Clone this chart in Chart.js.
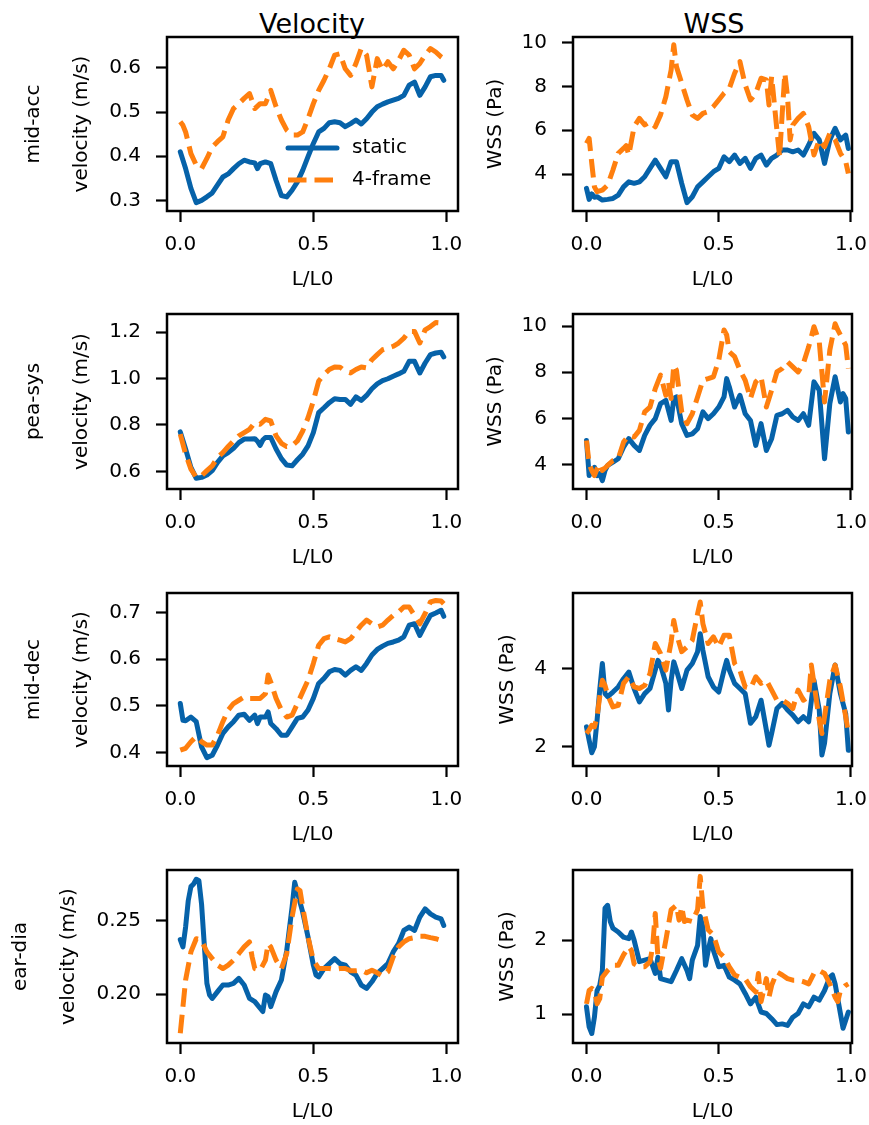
<!DOCTYPE html>
<html>
<head>
<meta charset="utf-8">
<script src="https://cdn.jsdelivr.net/npm/chart.js@4.4.0/dist/chart.umd.min.js"></script>
<style>
  html, body { margin: 0; padding: 0; background: #fff; }
  body { width: 869px; height: 1125px; position: relative; overflow: hidden; font-family: "DejaVu Sans", sans-serif; }
  canvas { position: absolute; }
  .coltitle { position: absolute; font-size: 27px; line-height: 27px; color: #000; white-space: nowrap; transform: translateX(-50%); }
</style>
</head>
<body>
<script>
// ---------------- text ----------------
const columnTitles = ['Velocity', 'WSS'];
const rowLabels = ['mid-acc', 'pea-sys', 'mid-dec', 'ear-dia'];
const yAxisTitles = ['velocity (m/s)', 'WSS (Pa)'];
const xAxisTitle = 'L/L0';
const seriesNames = ['static', '4-frame'];

// ---------------- ticks / ranges ----------------
const xTicks = [0, 0.5, 1.0];
const xTickLabels = ['0.0', '0.5', '1.0'];
const xRanges = [[-0.0499, 1.0435], [-0.051, 1.0038]];
const velTicks = [[0.3, 0.4, 0.5, 0.6], [0.6, 0.8, 1.0, 1.2], [0.4, 0.5, 0.6, 0.7], [0.20, 0.25]];
const velTickLabels = [['0.3', '0.4', '0.5', '0.6'], ['0.6', '0.8', '1.0', '1.2'], ['0.4', '0.5', '0.6', '0.7'], ['0.20', '0.25']];
const wssTicks = [[4, 6, 8, 10], [4, 6, 8, 10], [2, 4], [1, 2]];
const wssTickLabels = [['4', '6', '8', '10'], ['4', '6', '8', '10'], ['2', '4'], ['1', '2']];
const velRanges = [[0.276, 0.670], [0.524, 1.278], [0.371, 0.742], [0.1667, 0.2843]];
const wssRanges = [[2.32, 10.25], [2.94, 10.52], [1.51, 5.93], [0.612, 2.946]];

// ---------------- data: [L/L0, value] ----------------
const velMidAccStatic = [[0,0.41],[0.02,0.372],[0.04,0.327],[0.06,0.295],[0.08,0.30],[0.10,0.308],[0.12,0.317],[0.14,0.335],[0.16,0.353],[0.18,0.36],[0.20,0.372],[0.22,0.383],[0.24,0.391],[0.26,0.387],[0.28,0.385],[0.29,0.372],[0.30,0.383],[0.32,0.387],[0.34,0.383],[0.36,0.345],[0.38,0.311],[0.40,0.308],[0.42,0.323],[0.44,0.342],[0.46,0.368],[0.48,0.399],[0.50,0.429],[0.52,0.455],[0.54,0.463],[0.56,0.476],[0.58,0.478],[0.60,0.476],[0.62,0.467],[0.64,0.474],[0.66,0.482],[0.68,0.473],[0.70,0.485],[0.72,0.50],[0.74,0.512],[0.76,0.518],[0.78,0.523],[0.80,0.527],[0.82,0.531],[0.84,0.538],[0.86,0.561],[0.88,0.568],[0.90,0.538],[0.92,0.557],[0.94,0.58],[0.96,0.583],[0.98,0.583],[0.99,0.572]];
const velMidAcc4f = [[0,0.478],[0.01,0.47],[0.02,0.455],[0.04,0.406],[0.06,0.38],[0.08,0.372],[0.10,0.395],[0.12,0.421],[0.14,0.433],[0.16,0.444],[0.18,0.482],[0.20,0.508],[0.22,0.519],[0.24,0.531],[0.26,0.542],[0.28,0.508],[0.30,0.519],[0.32,0.519],[0.34,0.549],[0.36,0.512],[0.38,0.482],[0.40,0.459],[0.42,0.448],[0.44,0.448],[0.46,0.455],[0.48,0.485],[0.50,0.519],[0.52,0.549],[0.54,0.572],[0.56,0.598],[0.58,0.629],[0.60,0.632],[0.62,0.598],[0.64,0.583],[0.66,0.61],[0.68,0.644],[0.70,0.629],[0.72,0.557],[0.74,0.621],[0.76,0.595],[0.78,0.614],[0.80,0.598],[0.82,0.617],[0.84,0.64],[0.86,0.629],[0.88,0.598],[0.90,0.61],[0.92,0.629],[0.94,0.644],[0.96,0.636],[0.98,0.625],[0.99,0.621]];

const wssMidAccStatic = [[0,3.35],[0.01,2.85],[0.02,3.1],[0.03,2.95],[0.04,2.97],[0.06,2.82],[0.08,2.85],[0.10,2.89],[0.12,3.04],[0.14,3.42],[0.16,3.65],[0.18,3.58],[0.20,3.65],[0.22,3.88],[0.24,4.26],[0.26,4.64],[0.28,4.26],[0.30,3.88],[0.32,4.57],[0.34,4.57],[0.36,3.58],[0.38,2.7],[0.40,2.97],[0.42,3.42],[0.44,3.65],[0.46,3.88],[0.48,4.11],[0.50,4.26],[0.52,4.79],[0.54,4.57],[0.56,4.87],[0.58,4.49],[0.60,4.72],[0.62,4.26],[0.64,4.72],[0.66,4.87],[0.68,4.41],[0.70,4.72],[0.72,4.87],[0.74,5.1],[0.76,5.1],[0.78,5.02],[0.80,5.1],[0.82,4.87],[0.84,5.33],[0.86,5.86],[0.88,5.56],[0.90,4.49],[0.92,5.56],[0.94,6.09],[0.96,5.56],[0.98,5.78],[0.99,5.17]];
const wssMidAcc4f = [[0,5.4],[0.01,5.63],[0.02,4.49],[0.03,3.42],[0.04,3.2],[0.06,3.27],[0.08,3.5],[0.10,4.19],[0.12,4.95],[0.14,5.17],[0.15,5.3],[0.16,4.87],[0.18,6.16],[0.20,6.54],[0.22,6.24],[0.24,6.39],[0.26,6.16],[0.28,6.7],[0.30,7.53],[0.32,8.75],[0.33,9.9],[0.34,8.9],[0.36,8.14],[0.38,7.38],[0.40,6.7],[0.42,6.54],[0.44,6.77],[0.46,6.85],[0.48,7.08],[0.50,7.38],[0.52,7.69],[0.54,7.91],[0.56,8.6],[0.58,9.13],[0.60,8.07],[0.62,7.38],[0.64,7.69],[0.66,8.37],[0.68,8.3],[0.69,7.15],[0.70,8.45],[0.72,6.0],[0.73,4.79],[0.74,6.77],[0.75,8.6],[0.76,7.53],[0.77,5.56],[0.78,6.24],[0.80,6.54],[0.82,6.77],[0.84,6.16],[0.86,4.87],[0.88,5.56],[0.90,5.25],[0.92,5.86],[0.94,5.56],[0.96,4.95],[0.98,4.57],[0.99,4.03]];

const velPeaSysStatic = [[0,0.77],[0.02,0.696],[0.04,0.617],[0.06,0.57],[0.08,0.574],[0.10,0.584],[0.12,0.603],[0.14,0.639],[0.16,0.667],[0.18,0.681],[0.20,0.699],[0.22,0.724],[0.24,0.739],[0.26,0.739],[0.28,0.741],[0.29,0.73],[0.30,0.712],[0.31,0.735],[0.32,0.746],[0.34,0.746],[0.36,0.696],[0.38,0.655],[0.40,0.627],[0.42,0.624],[0.44,0.65],[0.46,0.674],[0.48,0.71],[0.50,0.767],[0.52,0.853],[0.54,0.874],[0.56,0.896],[0.58,0.913],[0.60,0.91],[0.62,0.91],[0.64,0.889],[0.66,0.921],[0.68,0.906],[0.70,0.927],[0.72,0.956],[0.74,0.977],[0.76,0.991],[0.78,0.999],[0.80,1.01],[0.82,1.02],[0.84,1.031],[0.86,1.074],[0.88,1.074],[0.90,1.024],[0.92,1.067],[0.94,1.103],[0.96,1.11],[0.98,1.113],[0.99,1.093]];
const velPeaSys4f = [[0,0.76],[0.02,0.674],[0.04,0.61],[0.06,0.574],[0.08,0.581],[0.10,0.603],[0.12,0.624],[0.14,0.66],[0.16,0.681],[0.18,0.707],[0.20,0.731],[0.22,0.753],[0.24,0.767],[0.26,0.781],[0.28,0.81],[0.30,0.803],[0.32,0.824],[0.34,0.817],[0.36,0.753],[0.38,0.721],[0.40,0.707],[0.42,0.71],[0.44,0.731],[0.46,0.774],[0.48,0.831],[0.50,0.903],[0.52,0.989],[0.54,1.017],[0.56,1.039],[0.58,1.05],[0.60,1.049],[0.62,1.031],[0.64,1.024],[0.66,1.039],[0.68,1.05],[0.70,1.046],[0.72,1.081],[0.74,1.103],[0.76,1.124],[0.78,1.131],[0.80,1.139],[0.82,1.153],[0.84,1.174],[0.86,1.203],[0.88,1.203],[0.90,1.153],[0.92,1.21],[0.94,1.224],[0.96,1.241],[0.98,1.239],[0.99,1.227]];

const wssPeaSysStatic = [[0,5.04],[0.01,3.52],[0.02,3.74],[0.03,3.88],[0.04,3.52],[0.05,3.6],[0.06,3.3],[0.07,3.74],[0.08,3.96],[0.10,4.1],[0.12,4.25],[0.14,4.75],[0.16,5.12],[0.18,4.83],[0.20,4.61],[0.22,5.26],[0.24,5.7],[0.26,5.99],[0.28,6.64],[0.30,6.78],[0.32,5.91],[0.33,6.86],[0.34,6.93],[0.36,5.77],[0.38,5.26],[0.40,5.33],[0.42,5.55],[0.44,6.28],[0.46,5.99],[0.48,6.2],[0.50,6.49],[0.52,6.93],[0.53,7.72],[0.54,7.36],[0.56,6.49],[0.58,7.0],[0.60,6.2],[0.62,5.91],[0.64,4.83],[0.66,5.77],[0.68,4.61],[0.70,5.12],[0.72,6.13],[0.74,6.2],[0.76,6.35],[0.78,6.06],[0.80,5.91],[0.82,6.2],[0.84,5.7],[0.86,7.58],[0.88,7.22],[0.90,4.25],[0.92,6.64],[0.94,7.8],[0.96,6.71],[0.97,7.07],[0.98,6.86],[0.99,5.41]];
const wssPeaSys4f = [[0,5.04],[0.01,4.03],[0.02,3.74],[0.03,3.52],[0.04,3.81],[0.05,4.03],[0.06,3.74],[0.08,3.96],[0.10,4.17],[0.12,4.25],[0.14,4.97],[0.16,5.26],[0.18,5.19],[0.20,5.48],[0.22,6.28],[0.24,6.49],[0.26,7.29],[0.28,7.87],[0.30,7.0],[0.31,7.58],[0.32,6.86],[0.33,8.3],[0.34,8.09],[0.36,6.28],[0.38,5.77],[0.40,6.2],[0.42,6.93],[0.44,7.65],[0.46,7.72],[0.48,7.8],[0.50,8.52],[0.52,9.83],[0.53,9.61],[0.54,8.88],[0.56,8.67],[0.58,8.09],[0.60,7.65],[0.62,6.86],[0.64,7.58],[0.66,7.8],[0.68,6.49],[0.70,7.22],[0.72,8.01],[0.74,8.16],[0.76,8.45],[0.78,8.23],[0.80,8.01],[0.82,8.38],[0.84,9.1],[0.86,9.97],[0.88,9.32],[0.90,6.71],[0.92,8.96],[0.94,10.1],[0.95,9.83],[0.96,9.61],[0.98,9.17],[0.99,8.16]];

const velMidDecStatic = [[0,0.505],[0.01,0.469],[0.02,0.468],[0.04,0.476],[0.06,0.466],[0.08,0.412],[0.10,0.389],[0.12,0.394],[0.14,0.416],[0.16,0.441],[0.18,0.455],[0.20,0.466],[0.22,0.48],[0.24,0.482],[0.26,0.469],[0.28,0.48],[0.29,0.462],[0.30,0.476],[0.32,0.476],[0.33,0.487],[0.34,0.462],[0.36,0.451],[0.38,0.437],[0.40,0.437],[0.42,0.455],[0.44,0.473],[0.46,0.476],[0.48,0.491],[0.50,0.516],[0.52,0.548],[0.54,0.559],[0.56,0.573],[0.58,0.578],[0.60,0.576],[0.62,0.566],[0.64,0.576],[0.66,0.584],[0.68,0.576],[0.70,0.591],[0.72,0.609],[0.74,0.621],[0.76,0.628],[0.78,0.634],[0.80,0.637],[0.82,0.641],[0.84,0.648],[0.86,0.673],[0.88,0.676],[0.90,0.651],[0.92,0.673],[0.94,0.694],[0.96,0.699],[0.98,0.705],[0.99,0.692]];
const velMidDec4f = [[0,0.405],[0.02,0.409],[0.04,0.423],[0.06,0.434],[0.08,0.423],[0.10,0.416],[0.12,0.416],[0.14,0.437],[0.16,0.466],[0.18,0.491],[0.20,0.505],[0.22,0.512],[0.24,0.519],[0.26,0.516],[0.28,0.516],[0.30,0.516],[0.32,0.526],[0.33,0.566],[0.34,0.551],[0.36,0.516],[0.38,0.491],[0.40,0.476],[0.42,0.48],[0.44,0.505],[0.46,0.53],[0.48,0.555],[0.50,0.591],[0.52,0.63],[0.54,0.644],[0.56,0.648],[0.58,0.644],[0.60,0.641],[0.62,0.637],[0.64,0.644],[0.66,0.659],[0.68,0.673],[0.70,0.684],[0.72,0.676],[0.74,0.669],[0.76,0.673],[0.78,0.684],[0.80,0.694],[0.82,0.701],[0.84,0.712],[0.86,0.712],[0.88,0.694],[0.90,0.676],[0.92,0.698],[0.94,0.723],[0.96,0.726],[0.98,0.725],[0.99,0.719]];

const wssMidDecStatic = [[0,2.51],[0.01,2.17],[0.02,1.85],[0.03,2.0],[0.04,2.68],[0.05,3.45],[0.06,4.13],[0.07,3.36],[0.08,3.28],[0.10,3.4],[0.12,3.53],[0.14,3.74],[0.16,3.91],[0.18,3.49],[0.20,3.15],[0.22,3.36],[0.24,3.49],[0.26,3.96],[0.27,4.21],[0.28,4.09],[0.30,3.62],[0.31,2.94],[0.32,3.7],[0.33,4.17],[0.34,3.96],[0.36,3.49],[0.38,3.96],[0.40,4.13],[0.42,4.43],[0.43,4.89],[0.44,4.47],[0.46,3.79],[0.48,3.53],[0.50,3.4],[0.52,3.96],[0.53,4.21],[0.54,3.96],[0.56,3.62],[0.58,3.49],[0.60,3.36],[0.62,2.6],[0.64,2.77],[0.66,3.19],[0.68,2.43],[0.69,2.04],[0.70,2.34],[0.72,2.98],[0.74,3.11],[0.76,2.94],[0.78,2.81],[0.80,2.64],[0.82,2.77],[0.84,2.64],[0.86,3.7],[0.88,2.94],[0.89,1.79],[0.90,2.09],[0.92,3.36],[0.94,4.09],[0.96,3.36],[0.98,2.85],[0.99,1.91]];
const wssMidDec4f = [[0,2.34],[0.01,2.43],[0.02,2.55],[0.03,2.51],[0.04,2.77],[0.05,3.28],[0.06,3.7],[0.07,3.57],[0.08,3.32],[0.10,3.02],[0.12,3.06],[0.14,3.62],[0.16,3.79],[0.18,3.53],[0.20,3.49],[0.22,3.57],[0.24,3.87],[0.26,4.64],[0.28,4.38],[0.30,3.96],[0.32,4.68],[0.33,5.23],[0.34,4.89],[0.36,4.43],[0.38,4.55],[0.40,4.72],[0.42,5.4],[0.43,5.7],[0.44,5.15],[0.46,4.64],[0.48,4.81],[0.50,4.55],[0.52,4.85],[0.54,4.85],[0.56,4.13],[0.58,3.96],[0.60,3.53],[0.62,3.49],[0.64,3.79],[0.66,3.62],[0.68,3.7],[0.70,3.45],[0.72,3.19],[0.74,3.19],[0.76,3.11],[0.78,2.98],[0.80,3.45],[0.82,3.19],[0.84,3.28],[0.85,4.09],[0.86,3.62],[0.88,2.68],[0.89,2.34],[0.90,2.77],[0.92,3.7],[0.94,4.09],[0.96,3.53],[0.98,2.77],[0.99,2.36]];

const velEarDiaStatic = [[0,0.237],[0.01,0.232],[0.02,0.2455],[0.03,0.2635],[0.04,0.273],[0.05,0.2748],[0.06,0.278],[0.07,0.277],[0.08,0.261],[0.09,0.234],[0.10,0.2072],[0.11,0.1993],[0.12,0.197],[0.14,0.2016],[0.16,0.2061],[0.18,0.2061],[0.20,0.2072],[0.22,0.2106],[0.24,0.2061],[0.26,0.197],[0.28,0.1948],[0.30,0.1903],[0.31,0.1881],[0.32,0.1993],[0.33,0.1982],[0.34,0.1914],[0.36,0.2016],[0.38,0.2095],[0.40,0.2297],[0.42,0.259],[0.43,0.2759],[0.44,0.2691],[0.46,0.2556],[0.48,0.2387],[0.50,0.2196],[0.51,0.2128],[0.52,0.2117],[0.54,0.2173],[0.56,0.2207],[0.58,0.2241],[0.60,0.2207],[0.62,0.2196],[0.64,0.2151],[0.66,0.2128],[0.68,0.2061],[0.70,0.2038],[0.72,0.2083],[0.74,0.214],[0.76,0.2173],[0.78,0.2207],[0.80,0.2286],[0.82,0.2342],[0.84,0.2432],[0.86,0.2455],[0.88,0.2432],[0.90,0.2523],[0.92,0.2579],[0.94,0.2545],[0.96,0.2523],[0.98,0.2511],[0.99,0.2466]];
const velEarDia4f = [[0,0.1734],[0.01,0.1914],[0.02,0.2095],[0.04,0.2286],[0.06,0.2376],[0.08,0.2365],[0.10,0.2286],[0.12,0.2241],[0.14,0.2196],[0.16,0.2173],[0.18,0.2196],[0.20,0.223],[0.22,0.2275],[0.24,0.232],[0.26,0.2354],[0.27,0.2252],[0.28,0.2173],[0.30,0.2162],[0.32,0.223],[0.33,0.2342],[0.34,0.232],[0.36,0.223],[0.38,0.2173],[0.40,0.2275],[0.42,0.2523],[0.44,0.2714],[0.45,0.2703],[0.46,0.259],[0.48,0.2387],[0.50,0.223],[0.52,0.2173],[0.54,0.2173],[0.56,0.2173],[0.58,0.2167],[0.60,0.2173],[0.62,0.2173],[0.64,0.2158],[0.66,0.2158],[0.68,0.2162],[0.70,0.2144],[0.72,0.2162],[0.74,0.2144],[0.76,0.2122],[0.78,0.2151],[0.80,0.2252],[0.82,0.232],[0.84,0.2354],[0.86,0.2376],[0.88,0.2383],[0.90,0.2392],[0.92,0.2392],[0.94,0.2383],[0.96,0.2376],[0.98,0.2365],[0.99,0.2347]];

const wssEarDiaStatic = [[0,1.1],[0.01,0.83],[0.02,0.74],[0.03,0.96],[0.04,1.32],[0.05,1.39],[0.06,1.59],[0.07,2.43],[0.08,2.47],[0.09,2.25],[0.10,2.16],[0.12,2.11],[0.14,2.04],[0.16,2.02],[0.17,2.11],[0.18,2.0],[0.20,1.71],[0.22,1.73],[0.24,1.75],[0.26,1.55],[0.27,1.77],[0.28,1.48],[0.30,1.46],[0.32,1.44],[0.34,1.59],[0.36,1.75],[0.38,1.59],[0.39,1.48],[0.40,1.73],[0.42,1.93],[0.43,2.32],[0.44,2.18],[0.45,1.66],[0.46,1.86],[0.47,2.02],[0.48,1.86],[0.50,1.64],[0.52,1.66],[0.54,1.5],[0.56,1.46],[0.58,1.41],[0.60,1.28],[0.62,1.14],[0.64,1.23],[0.66,1.03],[0.68,1.01],[0.70,0.94],[0.72,0.86],[0.74,0.87],[0.76,0.85],[0.78,0.96],[0.80,1.01],[0.82,1.14],[0.84,1.1],[0.86,1.23],[0.88,1.19],[0.90,1.32],[0.92,1.5],[0.93,1.53],[0.94,1.41],[0.96,1.01],[0.97,0.81],[0.98,0.92],[0.99,1.03]];
const wssEarDia4f = [[0,1.14],[0.01,1.32],[0.02,1.35],[0.03,1.32],[0.04,1.14],[0.05,1.21],[0.06,1.5],[0.08,1.59],[0.10,1.66],[0.12,1.66],[0.14,1.8],[0.16,1.91],[0.17,1.86],[0.18,1.68],[0.20,1.64],[0.22,1.64],[0.24,1.71],[0.25,1.91],[0.26,2.36],[0.27,1.77],[0.28,1.62],[0.30,2.0],[0.32,2.41],[0.34,2.47],[0.35,2.27],[0.36,2.45],[0.37,2.25],[0.38,2.27],[0.40,2.25],[0.42,2.41],[0.43,2.86],[0.44,2.45],[0.46,2.14],[0.48,2.07],[0.50,1.84],[0.52,1.77],[0.54,1.64],[0.56,1.53],[0.58,1.5],[0.60,1.48],[0.62,1.37],[0.64,1.3],[0.65,1.55],[0.66,1.17],[0.68,1.48],[0.69,1.23],[0.70,1.39],[0.72,1.57],[0.74,1.53],[0.76,1.48],[0.78,1.46],[0.80,1.46],[0.82,1.44],[0.84,1.41],[0.86,1.55],[0.88,1.59],[0.90,1.55],[0.92,1.41],[0.94,1.23],[0.95,1.17],[0.96,1.32],[0.98,1.39],[0.99,1.41]];

const velocitySeries = [[velMidAccStatic, velMidAcc4f], [velPeaSysStatic, velPeaSys4f], [velMidDecStatic, velMidDec4f], [velEarDiaStatic, velEarDia4f]];
const wssSeries = [[wssMidAccStatic, wssMidAcc4f], [wssPeaSysStatic, wssPeaSys4f], [wssMidDecStatic, wssMidDec4f], [wssEarDiaStatic, wssEarDia4f]];

// ---------------- styles & layout ----------------
const FONT = "'DejaVu Sans', sans-serif";
Chart.defaults.font.family = FONT;
Chart.defaults.font.size = 20;
Chart.defaults.color = '#000';

const seriesStyles = [
  { color: '#0662a9', dash: [], cap: 'round', order: 1 },
  { color: '#ff7f0e', dash: [18.5, 8], cap: 'butt', order: 0 }
];

const colBox = [{ left: 167, width: 291 }, { left: 573, width: 279 }];
const rowBox = [{ top: 37, height: 174 }, { top: 314, height: 175 }, { top: 593, height: 173 }, { top: 870, height: 173 }];
const titleCenterX = [[34, 496], [34, 496], [34, 508], [21, 508]];
const colTitlePos = [{ x: 312, y: 10 }, { x: 714, y: 10 }];

columnTitles.forEach((t, i) => {
  const d = document.createElement('div');
  d.className = 'coltitle';
  d.textContent = t;
  d.style.left = colTitlePos[i].x + 'px';
  d.style.top = colTitlePos[i].y + 'px';
  document.body.appendChild(d);
});

const boxPlugin = {
  id: 'axesBox',
  afterDraw(chart) {
    const { ctx, chartArea: a } = chart;
    ctx.save();
    ctx.strokeStyle = '#000';
    ctx.lineWidth = 2.5;
    ctx.strokeRect(a.left, a.top, a.right - a.left, a.bottom - a.top);
    ctx.restore();
  }
};

const legendPlugin = {
  id: 'inAxesLegend',
  afterDatasetsDraw(chart, args, opts) {
    if (!opts || !opts.display) return;
    const { ctx, chartArea: a } = chart;
    ctx.save();
    chart.data.datasets.forEach((d, i) => {
      const y = a.top + opts.y0 + i * opts.dy;
      ctx.strokeStyle = d.borderColor;
      ctx.lineWidth = d.borderWidth;
      ctx.lineCap = d.borderCapStyle || 'butt';
      ctx.setLineDash(d.borderDash || []);
      ctx.beginPath();
      ctx.moveTo(a.left + opts.x0, y);
      ctx.lineTo(a.left + opts.x1, y);
      ctx.stroke();
      ctx.setLineDash([]);
      ctx.fillStyle = '#000';
      ctx.font = '20px ' + FONT;
      ctx.textAlign = 'left';
      ctx.textBaseline = 'middle';
      ctx.fillText(d.label, a.left + opts.tx, y);
    });
    ctx.restore();
  }
};
Chart.register(boxPlugin, legendPlugin);

function makePanel(row, col) {
  const box = { left: colBox[col].left, width: colBox[col].width, top: rowBox[row].top, height: rowBox[row].height };
  const canvasLeft = titleCenterX[row][col] - 12;
  const yW = box.left - canvasLeft;
  const padT = 32, padR = 30, xH = 81;
  const W = yW + box.width + padR, H = padT + box.height + xH;
  const canvas = document.createElement('canvas');
  canvas.width = W; canvas.height = H;
  canvas.style.left = canvasLeft + 'px';
  canvas.style.top = (box.top - padT) + 'px';
  canvas.style.width = W + 'px';
  canvas.style.height = H + 'px';
  document.body.appendChild(canvas);

  const isVel = col === 0;
  const series = isVel ? velocitySeries[row] : wssSeries[row];
  const yTicks = isVel ? velTicks[row] : wssTicks[row];
  const yLabels = isVel ? velTickLabels[row] : wssTickLabels[row];
  const yRange = isVel ? velRanges[row] : wssRanges[row];
  const yTitle = isVel ? [rowLabels[row], '', yAxisTitles[0]] : yAxisTitles[1];

  const datasets = series.map((s, i) => ({
    label: seriesNames[i],
    data: s,
    borderColor: seriesStyles[i].color,
    backgroundColor: seriesStyles[i].color,
    borderWidth: 5,
    borderDash: seriesStyles[i].dash,
    borderCapStyle: seriesStyles[i].cap,
    borderJoinStyle: 'round',
    pointRadius: 0,
    tension: 0,
    fill: false,
    clip: 0,
    order: seriesStyles[i].order
  }));

  new Chart(canvas, {
    type: 'line',
    data: { datasets },
    options: {
      responsive: false,
      animation: false,
      devicePixelRatio: 1,
      events: [],
      layout: { padding: { left: 0, top: padT, right: padR, bottom: 0 } },
      plugins: {
        legend: { display: false },
        tooltip: { enabled: false },
        inAxesLegend: { display: row === 0 && col === 0, x0: 121, x1: 170, tx: 185, y0: 111, dy: 32 }
      },
      scales: {
        x: {
          type: 'linear',
          min: xRanges[col][0],
          max: xRanges[col][1],
          afterBuildTicks: s => { s.ticks = xTicks.map(v => ({ value: v })); },
          afterFit: s => { s.height = xH; },
          ticks: { callback: (v, i) => xTickLabels[i], font: { size: 20 }, color: '#000', padding: 10.5, maxRotation: 0, autoSkip: false },
          grid: { display: true, drawOnChartArea: false, drawTicks: true, tickLength: 11, tickWidth: 2.2, tickColor: '#000' },
          border: { display: false },
          title: { display: true, text: xAxisTitle, font: { size: 20 }, color: '#000', padding: 0 }
        },
        y: {
          type: 'linear',
          min: yRange[0],
          max: yRange[1],
          afterBuildTicks: s => { s.ticks = yTicks.map(v => ({ value: v })); },
          afterFit: s => { s.width = yW; },
          ticks: { callback: (v, i) => yLabels[i], font: { size: 20 }, color: '#000', padding: 15, autoSkip: false },
          grid: { display: true, drawOnChartArea: false, drawTicks: true, tickLength: 11, tickWidth: 2.2, tickColor: '#000' },
          border: { display: false },
          title: { display: true, text: yTitle, font: { size: 20 }, color: '#000', padding: 0 }
        }
      }
    }
  });
}

for (let r = 0; r < 4; r++) {
  for (let c = 0; c < 2; c++) makePanel(r, c);
}
</script>
</body>
</html>
